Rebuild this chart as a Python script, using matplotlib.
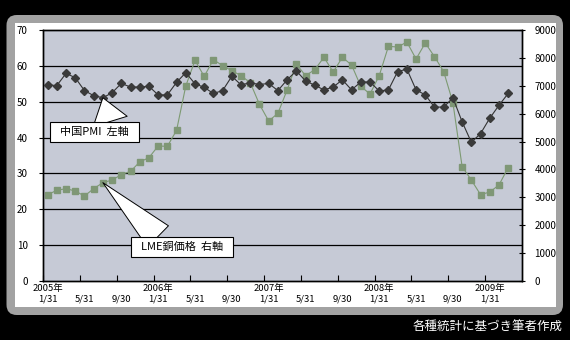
import matplotlib
matplotlib.use('Agg')
import matplotlib.pyplot as plt
from matplotlib.patches import FancyBboxPatch, Rectangle
from matplotlib.transforms import blended_transform_factory

plt.rcParams['font.family'] = ['Noto Sans CJK JP', 'DejaVu Sans']

# monthly data, 2005/1 - 2009/3
pmi = [54.7, 54.5, 57.9, 56.7, 53.1, 51.7, 51.1, 52.5, 55.1, 54.1, 54.1, 54.3,
       51.9, 51.9, 55.4, 58.1, 55.0, 54.0, 52.3, 53.1, 57.1, 54.7, 55.3, 54.8,
       55.1, 53.1, 56.1, 58.6, 55.8, 54.6, 53.3, 54.1, 56.1, 53.3, 55.5, 55.5,
       53.0, 53.3, 58.4, 59.1, 53.3, 51.9, 48.5, 48.5, 51.1, 44.4, 38.7, 41.1,
       45.4, 49.0, 52.3]
copper = [3096, 3251, 3311, 3227, 3048, 3311, 3526, 3621, 3813, 3932, 4267, 4422,
          4840, 4829, 5402, 6992, 7912, 7338, 7936, 7721, 7542, 7362, 7111, 6334,
          5737, 6012, 6848, 7781, 7362, 7577, 8020, 7494, 8020, 7745, 6980, 6705,
          7362, 8414, 8390, 8569, 7960, 8533, 8044, 7506, 6394, 4100, 3621, 3096,
          3191, 3442, 4064]
n_cats = 52
tick_idx = list(range(0, 49, 4))
tick_labels = ['2005年\n1/31', '\n5/31', '\n9/30', '2006年\n1/31', '\n5/31', '\n9/30',
               '2007年\n1/31', '\n5/31', '\n9/30', '2008年\n1/31', '\n5/31', '\n9/30',
               '2009年\n1/31']

fig = plt.figure(figsize=(5.7, 3.4), dpi=100, facecolor='black')

# grey rounded frame and white chart area
frame = FancyBboxPatch((6.5 / 570, 1 - 315 / 340), 556.5 / 570, 300 / 340,
                       boxstyle='round,pad=0,rounding_size=0.018',
                       mutation_aspect=570 / 340,
                       transform=fig.transFigure, fc='#a2a2a2', ec='none', zorder=-2)
inner = Rectangle((14.5 / 570, 1 - 307 / 340), 541.5 / 570, 284.3 / 340,
                  transform=fig.transFigure, fc='white', ec='none', zorder=-1)
fig.patches.extend([frame, inner])

rect = [43 / 570, 1 - 281 / 340, 479 / 570, 251 / 340]
ax2 = fig.add_axes(rect)   # right axis (copper), drawn below
ax = fig.add_axes(rect, sharex=ax2)  # left axis (PMI), drawn on top
ax2.set_zorder(1)
ax.set_zorder(2)
ax.patch.set_visible(False)
ax2.set_facecolor('#c6cad6')
ax2.yaxis.tick_right()
ax2.yaxis.set_label_position('right')

x = list(range(len(pmi)))

ax.set_ylim(0, 70)
ax.set_yticks(range(0, 71, 10))
ax2.set_ylim(0, 9000)
ax2.set_yticks(range(0, 9001, 1000))
ax.set_xlim(-0.5, n_cats - 0.5)

# horizontal gridlines from left axis, placed behind series
trans = blended_transform_factory(ax2.transAxes, ax.transData)
ax2.hlines(range(10, 70, 10), 0, 1, transform=trans, colors='black', lw=0.9, zorder=1)

ax2.plot(x, copper, color='#7d9a72', lw=0.8, marker='s', ms=4.8,
         mfc='#7f9776', mec='#7f9776', zorder=3)
ax.plot(x, pmi, color='#333333', lw=0.8, marker='D', ms=4.4,
        mfc='#3a3a3a', mec='#3a3a3a', zorder=4)

# x ticks: marks at category boundaries, labels at category centres
ax2.set_xticks([i - 0.5 for i in tick_idx])
ax2.set_xticklabels([])
ax2.set_xticks(tick_idx, minor=True)
ax2.set_xticklabels(tick_labels, minor=True, fontsize=6.8, linespacing=1.3)
ax2.tick_params(axis='x', which='major', direction='in', length=4, width=0.8)
ax2.tick_params(axis='x', which='minor', length=0, pad=2)
ax.tick_params(axis='x', which='both', bottom=False, labelbottom=False)

ax.tick_params(axis='y', direction='out', length=3, width=0.8, labelsize=7, pad=8)
ax2.tick_params(axis='y', direction='inout', length=4, width=0.8, labelsize=7, pad=7)

for a in (ax, ax2):
    for s in a.spines.values():
        s.set_color('black')
        s.set_linewidth(1.0)

box = dict(boxstyle='square,pad=0.45', fc='white', ec='black', lw=0.8)
ax.annotate('  中国PMI  左軸  ', xy=(6, pmi[6]), xytext=(0.1075, 0.594),
            textcoords='axes fraction', ha='center', va='center', fontsize=8,
            bbox=box, zorder=6,
            arrowprops=dict(arrowstyle='wedge,tail_width=3.2,shrink_factor=0.5',
                            fc='white', ec='black', lw=0.7, shrinkA=0, shrinkB=0,
                            relpos=(0.72, 1.0)))
ax2.annotate('  LME銅価格  右軸  ', xy=(6, copper[6]), xytext=(0.29, 0.1355),
             textcoords='axes fraction', ha='center', va='center', fontsize=8,
             bbox=box, zorder=6,
             arrowprops=dict(arrowstyle='wedge,tail_width=2.7,shrink_factor=0.5',
                             fc='white', ec='black', lw=0.7, shrinkA=0, shrinkB=0,
                             relpos=(0.3, 1.0)))

fig.text(563 / 570, 1 - 327 / 340, '各種統計に基づき筆者作成', color='white',
         fontsize=9, ha='right', va='center')

fig.savefig('out.png', dpi=100, facecolor='black')
